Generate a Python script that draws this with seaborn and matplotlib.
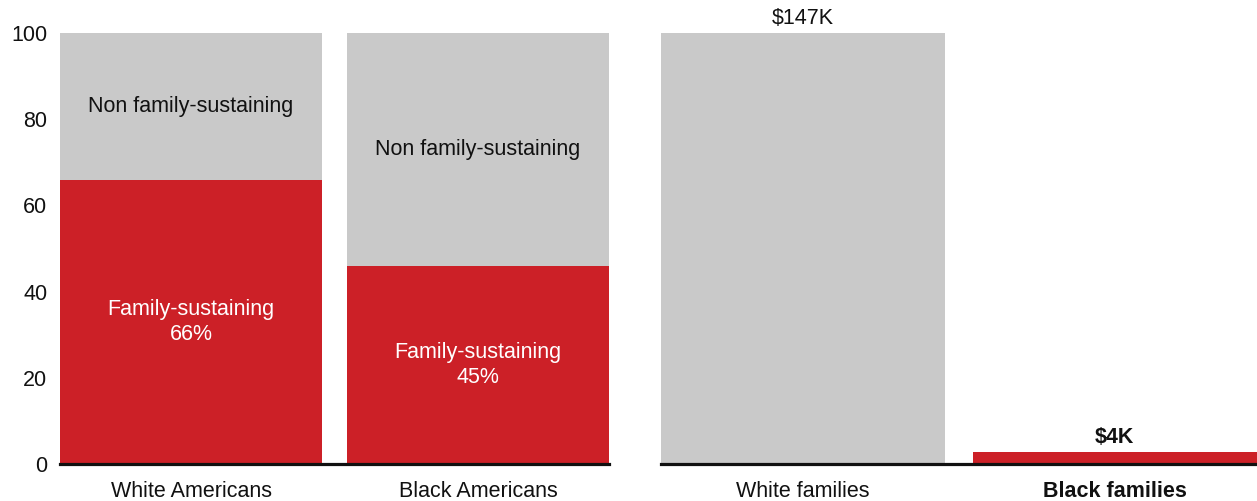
import matplotlib
matplotlib.use("Agg")
import matplotlib.pyplot as plt
import seaborn as sns
import pandas as pd

# ---- data ----
groups = ["White Americans", "Black Americans"]
family_sustaining = [66, 46]
total_share = [100, 100]
fs_labels = ["Family-sustaining\n66%", "Family-sustaining\n45%"]
non_label = "Non family-sustaining"

families = ["White families", "Black families"]
wealth_k = [147, 4]
wealth_labels = ["$147K", "$4K"]

yticks = [0, 20, 40, 60, 80, 100]

RED = "#CC2027"
GRAY = "#C9C9C9"

sns.set_theme(style="white")
plt.rcParams["font.family"] = ["Liberation Sans", "DejaVu Sans"]

fig = plt.figure(figsize=(12.57, 5.01), dpi=100)
ax1 = fig.add_axes([60 / 1257, 37 / 501, 549 / 1257, 431 / 501])
ax2 = fig.add_axes([661 / 1257, 37 / 501, 596 / 1257, 431 / 501])

W = 0.913
FS = 15.5

df1 = pd.DataFrame({"group": groups, "fs": family_sustaining, "total": total_share})
sns.barplot(data=df1, x="group", y="total", color=GRAY, width=W, ax=ax1,
            saturation=1, edgecolor="none", linewidth=0)
sns.barplot(data=df1, x="group", y="fs", color=RED, width=W, ax=ax1,
            saturation=1, edgecolor="none", linewidth=0)
for i, (fs, tot) in enumerate(zip(family_sustaining, total_share)):
    ax1.text(i, (fs + tot) / 2, non_label, ha="center", va="center",
             fontsize=FS, color="#111111")
    ax1.text(i, fs / 2, fs_labels[i], ha="center", va="center",
             fontsize=FS, color="white", linespacing=1.28)

ax1.set_ylim(0, 100)
ax1.set_xlim(-W / 2, 1 + W / 2)
ax1.set_yticks(yticks)
ax1.set_yticklabels([str(v) for v in yticks])
ax1.set_xlabel("")
ax1.set_ylabel("")

df2 = pd.DataFrame({"fam": families, "w": wealth_k})
sns.barplot(data=df2, x="fam", y="w", hue="fam", palette=[GRAY, RED],
            width=W, ax=ax2, saturation=1, legend=False,
            edgecolor="none", linewidth=0)
ax2.set_ylim(0, max(wealth_k))
ax2.set_xlim(-W / 2, 1 + W / 2)
ax2.set_yticks([])
ax2.set_xlabel("")
ax2.set_ylabel("")
for i, (v, lab) in enumerate(zip(wealth_k, wealth_labels)):
    ax2.annotate(lab, (i, v), xytext=(0, 3), textcoords="offset points",
                 ha="center", va="bottom", fontsize=FS, color="#111111",
                 fontweight="bold" if i == 1 else "normal",
                 annotation_clip=False)

for ax in (ax1, ax2):
    for s in ("top", "right", "left"):
        ax.spines[s].set_visible(False)
    ax.spines["bottom"].set_color("#111111")
    ax.spines["bottom"].set_linewidth(2.3)
    ax.spines["bottom"].set_zorder(5)
    ax.tick_params(axis="both", length=0, labelsize=FS, colors="#111111")
    ax.tick_params(axis="x", pad=12)
    ax.tick_params(axis="y", pad=9)
    ax.set_facecolor("white")

ax2.get_xticklabels()[1].set_fontweight("bold")

fig.savefig("out.png", dpi=100, facecolor="white")
